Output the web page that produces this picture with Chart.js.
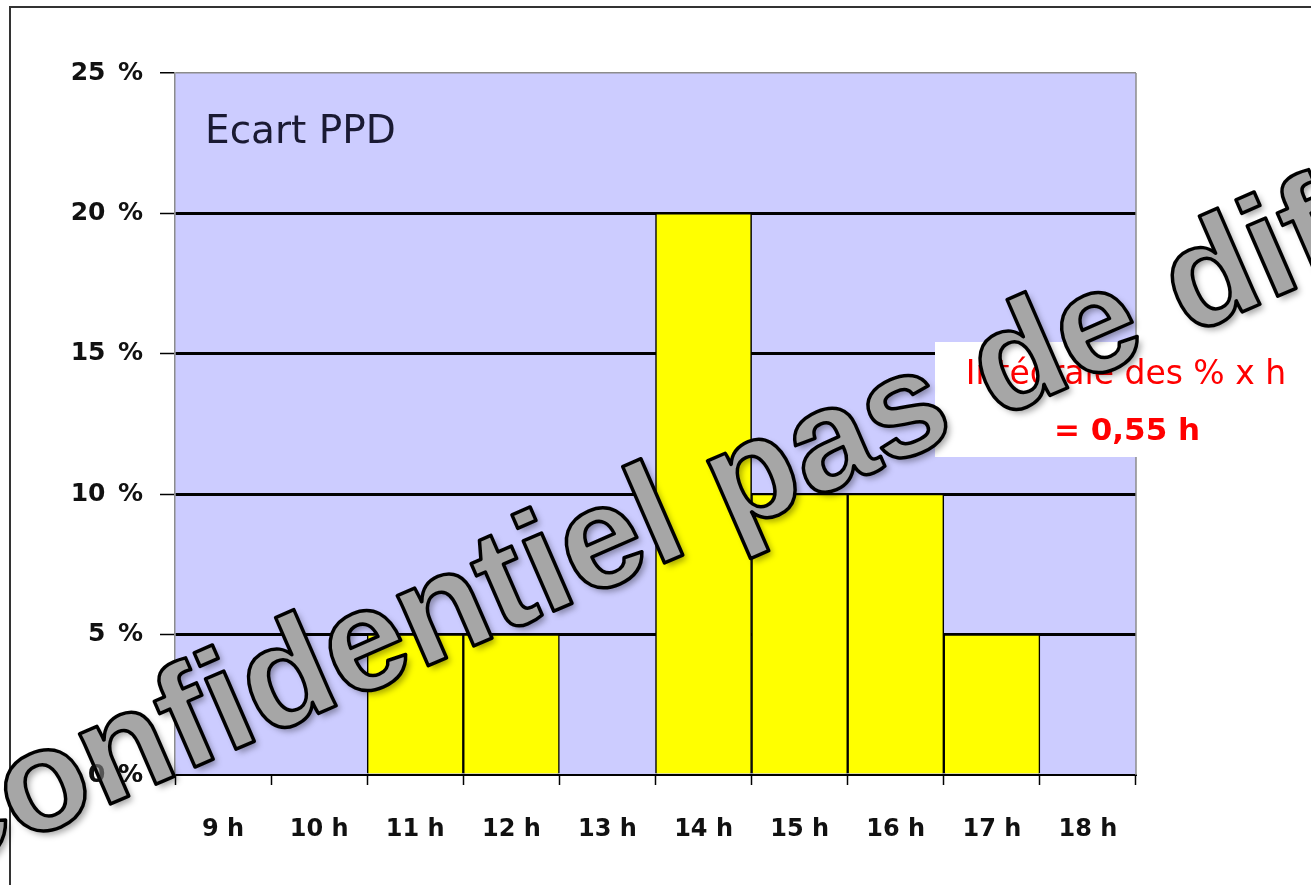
<!DOCTYPE html>
<html>
<head>
<meta charset="utf-8">
<script src="https://cdn.jsdelivr.net/npm/chart.js@4/dist/chart.umd.min.js"></script>
<style>
html, body { margin: 0; padding: 0; background: #fff; overflow: hidden; }
#wrap { position: relative; width: 1311px; height: 885px; }
</style>
</head>
<body>
<div id="wrap"><canvas id="ppdChart"></canvas></div>
<script>
const hours = ['9 h', '10 h', '11 h', '12 h', '13 h', '14 h', '15 h', '16 h', '17 h', '18 h'];
const ecartPct = [0, 0, 5, 5, 0, 20, 10, 10, 5, 0];
const yMax = 25;
const yStep = 5;
const titleText = 'Ecart PPD';
const noteLines = ['Intégrale des % x h', '= 0,55 h'];
const watermarkText = 'Confidentiel pas de diffusion';

const pctLabel = v => v + '\u2002%';
const yFont = 'bold 25px "DejaVu Sans"';

// lavender plot area
const plotBackground = {
    id: 'plotBackground',
    beforeDraw(chart) {
        const { ctx, chartArea: a } = chart;
        ctx.save();
        ctx.fillStyle = '#ccccff';
        ctx.fillRect(a.left, a.top, a.right - a.left, a.bottom - a.top);
        ctx.restore();
    }
};

// right border, title inside plot, white note box
const decorations = {
    id: 'decorations',
    afterDatasetsDraw(chart) {
        const { ctx, chartArea: a } = chart;
        ctx.save();
        ctx.strokeStyle = '#8c8c8c';
        ctx.lineWidth = 1.5;
        ctx.beginPath();
        ctx.moveTo(a.right, a.top);
        ctx.lineTo(a.right, a.bottom);
        ctx.stroke();

        // outer frame
        ctx.strokeStyle = '#333';
        ctx.lineWidth = 2;
        ctx.beginPath();
        ctx.moveTo(10, 900);
        ctx.lineTo(10, 7);
        ctx.lineTo(1320, 7);
        ctx.stroke();

        ctx.fillStyle = '#1a1a33';
        ctx.font = '39px "DejaVu Sans"';
        ctx.textBaseline = 'alphabetic';
        ctx.fillText(titleText, a.left + 30, a.top + 70);

        ctx.fillStyle = '#fff';
        ctx.fillRect(935, 342, 376, 115);
        ctx.fillStyle = '#ff0000';
        ctx.textAlign = 'center';
        ctx.font = '33px "DejaVu Sans"';
        ctx.fillText(noteLines[0], 1126, 384);
        ctx.font = 'bold 31px "DejaVu Sans"';
        ctx.fillText(noteLines[1], 1127, 440);
        ctx.restore();
    }
};

const watermark = {
    id: 'watermark',
    afterDraw(chart) {
        const ctx = chart.ctx;
        ctx.save();
        ctx.translate(-76, 885);
        ctx.rotate(-23.5 * Math.PI / 180);
        ctx.font = 'bold 145px "Liberation Sans"';
        ctx.shadowColor = 'rgba(0,0,0,0.35)';
        ctx.shadowBlur = 6;
        ctx.shadowOffsetX = 4;
        ctx.shadowOffsetY = 4;
        ctx.fillStyle = '#a6a6a6';
        ctx.fillText(watermarkText, 0, 0);
        ctx.shadowColor = 'transparent';
        ctx.strokeStyle = '#000';
        ctx.lineWidth = 3.5;
        ctx.lineJoin = 'round';
        ctx.strokeText(watermarkText, 0, 0);
        ctx.restore();

        // the 0 % label shows through the watermark in the original
        const y = chart.scales.y;
        ctx.save();
        ctx.globalAlpha = 0.55;
        ctx.fillStyle = '#111';
        ctx.font = yFont;
        ctx.textAlign = 'right';
        ctx.textBaseline = 'middle';
        ctx.fillText(pctLabel(0), y.right - 15 - 17, y.getPixelForValue(0));
        ctx.restore();
    }
};

const ctx = document.getElementById('ppdChart').getContext('2d');
const chart = new Chart(ctx, {
    type: 'bar',
    data: {
        labels: hours,
        datasets: [{
            data: ecartPct,
            backgroundColor: '#ffff00',
            borderColor: '#000',
            borderWidth: 1.5,
            barPercentage: 1,
            categoryPercentage: 1,
        }]
    },
    options: {
        responsive: true,
        maintainAspectRatio: false,
        animation: false,
        layout: { padding: { top: 73, right: 175, left: 0, bottom: 0 } },
        plugins: {
            legend: { display: false },
            tooltip: { enabled: false },
        },
        scales: {
            x: {
                afterFit: s => { s.height = 110; },
                grid: {
                    offset: true,
                    drawOnChartArea: false,
                    drawTicks: true,
                    tickLength: 10,
                    tickColor: '#000',
                    tickWidth: 1.5,
                },
                border: { color: '#000', width: 2 },
                ticks: {
                    color: '#111',
                    padding: 30,
                    font: { family: 'DejaVu Sans', size: 24, weight: 'bold' },
                },
            },
            y: {
                min: 0,
                max: yMax,
                afterFit: s => { s.width = 175; },
                ticks: {
                    stepSize: yStep,
                    color: '#111',
                    padding: 17,
                    font: { family: 'DejaVu Sans', size: 25, weight: 'bold' },
                    callback: pctLabel,
                },
                grid: {
                    color: c => c.tick.value === yMax ? '#8c8c8c' : (c.tick.value === 0 ? 'rgba(0,0,0,0)' : '#000'),
                    lineWidth: c => c.tick.value === yMax ? 1.5 : 3,
                    tickColor: '#000',
                    tickWidth: 1.5,
                    tickLength: 15,
                },
                border: { color: '#8c8c8c', width: 1.5 },
            },
        },
    },
    plugins: [plotBackground, decorations, watermark],
});
</script>
</body>
</html>
